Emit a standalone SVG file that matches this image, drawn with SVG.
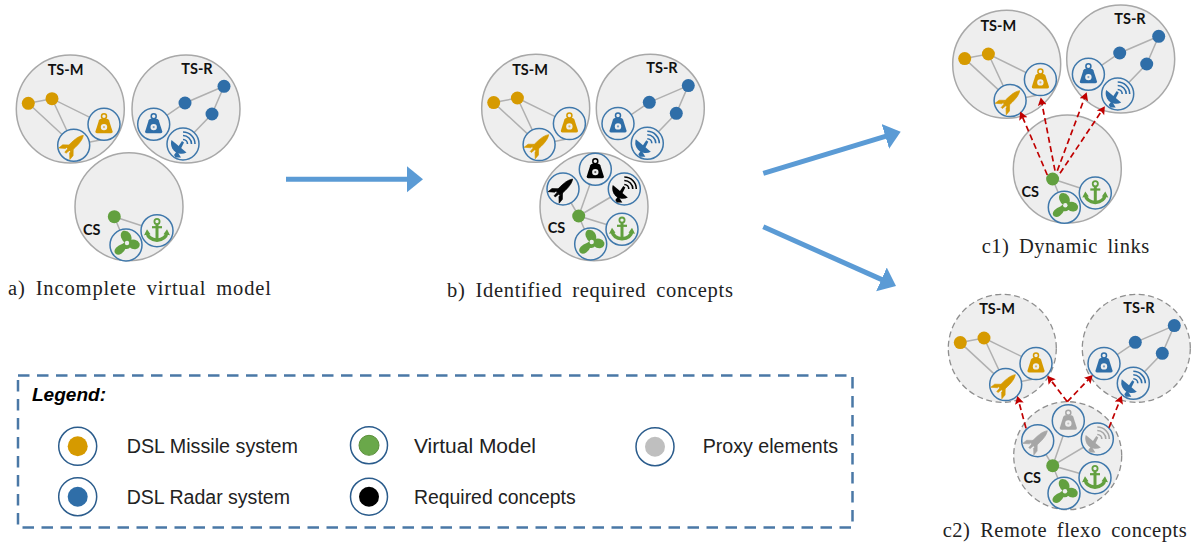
<svg xmlns="http://www.w3.org/2000/svg" width="1193" height="543" viewBox="0 0 1193 543">
<style>
.bg{fill:#eeeeee;stroke:#a8a8a8;stroke-width:1.5}
.bgd{fill:#eeeeee;stroke:#8f8f8f;stroke-width:1.3;stroke-dasharray:6 3.5}
.ln{stroke:#b0b0b0;stroke-width:1.5;fill:none}
.ring{fill:#eeeeee;stroke:#3f78ab;stroke-width:1.5}
.k .ring{stroke:#000;fill:#eeeeee}
.p .ring{stroke:#bdbdbd}
.o{color:#d69a00}.b{color:#2f6ea8}.g{color:#62a03f}.k{color:#000}.p{color:#a6a6a6}
.dot{fill:currentColor}
.lbl{font:700 14.5px Lato,"Liberation Sans",sans-serif;fill:#111;text-anchor:middle}
.cap{font:20.5px "Liberation Serif",serif;fill:#222}
.leg{font:19.5px "Liberation Sans",sans-serif;fill:#222}
.lo{fill:#fff;stroke:#2b5c8c;stroke-width:1.5}
.big{stroke:#5b9bd5;stroke-width:5;fill:none;marker-end:url(#mb)}
.red{stroke:#c00000;stroke-width:1.7;stroke-dasharray:6 3.5;fill:none;marker-end:url(#mr)}
</style>
<defs>
<marker id="mb" markerUnits="userSpaceOnUse" markerWidth="18" markerHeight="28" refX="6" refY="14" orient="auto"><path d="M0,1 L16,14 L0,27 Z" fill="#5b9bd5"/></marker>
<marker id="mr" markerUnits="userSpaceOnUse" markerWidth="10" markerHeight="10" refX="3" refY="5" orient="auto"><path d="M0,0.5 L8,5 L0,9.5 L1.5,5 Z" fill="#c00000"/></marker>
<g id="weight"><circle class="ring" r="16"/><circle cx="0" cy="-8" r="2.5" fill="none" stroke="currentColor" stroke-width="1.5"/><path d="M-3,-5.5 H3 Q4.5,-5.5 5,-4 L8.5,7 Q9,9 7,9 H-7 Q-9,9 -8.5,7 L-5,-4 Q-4.5,-5.5 -3,-5.5 Z" fill="currentColor"/><circle cx="0" cy="2.8" r="3.2" fill="#eeeeee"/><circle cx="0" cy="2.8" r="1.1" fill="currentColor" opacity=".6"/></g>
<g id="rocket"><circle class="ring" r="16"/><g transform="translate(-1.5,0.8) rotate(46)" fill="currentColor" stroke="currentColor" stroke-width=".6"><path d="M0,-15.5 C3.2,-11 3.3,-5 3,5 H-3 C-3.3,-5 -3.2,-11 0,-15.5 Z"/><path d="M-3,1.5 L-7.5,6 L-8,11 L-3,6.5 Z M3,1.5 L7.5,6 L8,11 L3,6.5 Z"/><path d="M-1.2,5 H1.2 L0.8,9.5 H-0.8 Z"/></g></g>
<g id="radar"><circle class="ring" r="16"/><g fill="currentColor"><path d="M-11.5,-4 L3.5,8.5 A10.5,10.5 0 0 1 -4,9.5 A10.5,10.5 0 0 1 -11.5,-4 Z"/><path d="M-6,7 L-2,13.5 L-7.5,13.5 L-9,11 Z"/><path d="M-5,3 L-1,-3 L1,-1.5 L-2,4.5 Z"/></g><g fill="none" stroke="currentColor" stroke-width="1.6"><path d="M0,-4.5 A4.5,4.5 0 0 1 4.5,0"/><path d="M0,-8.5 A8.5,8.5 0 0 1 8.5,0"/><path d="M0,-12 A12,12 0 0 1 12,0"/></g></g>
<g id="anchor"><circle class="ring" r="16"/><g fill="none" stroke="currentColor"><circle cx="0" cy="-9.2" r="2.6" stroke-width="1.8"/><path d="M0,-6.5 V9" stroke-width="3"/><path d="M-5,-3.5 H5" stroke-width="2.2"/><path d="M-10,2 C-9,7 -5,9 0,9.5 C5,9 9,7 10,2" stroke-width="3.4"/></g><path d="M-13,4.5 L-10,-1.5 L-6.5,3.5 Z M13,4.5 L10,-1.5 L6.5,3.5 Z" fill="currentColor"/></g>
<g id="prop"><circle class="ring" r="16"/><path fill="currentColor" stroke="currentColor" stroke-width="2.4" stroke-linejoin="round" d="M1,-2 C-4,-5 -5.5,-11 -2.5,-13 C2,-14 6,-9 3.5,-3.5 C7,-5 11,-4.5 12.5,-1 C13,3 8,4.5 4,1 C2,3 0,3 -1,2 C-3,7 -7,9.5 -9.5,8 C-12,5.5 -8,1.5 -3,0 C-2,-1 -1,-2 1,-2 Z"/><circle cx="1" cy="-2" r="2.2" fill="#eeeeee"/></g>
<g id="tsm-links"><path class="ln" d="M-42,-5.7 L-18.3,-10.3 L33.7,15.3 M-18.3,-10.3 L3.4,36.3 L-42,-5.7 M3.4,36.3 L40,29"/></g>
<g id="tsr-links"><path class="ln" d="M-32.3,15.3 L-1,-6 L38,-22.7 L26,5 L-3,35"/></g>
<g id="cs-links"><path class="ln" d="M28,24 L-14.7,10 M-14.7,10 L-3,38.3"/></g>
<g id="tsm-parts"><g class="o"><circle class="dot" cx="-42" cy="-5.7" r="6.5"/><circle class="dot" cx="-18.3" cy="-10.3" r="6.5"/><use href="#weight" transform="translate(33.7,15.3)"/><use href="#rocket" transform="translate(3.4,36.3)"/></g></g>
<g id="tsr-parts"><g class="b"><circle class="dot" cx="-1" cy="-6" r="6.5"/><circle class="dot" cx="38" cy="-22.7" r="6.5"/><circle class="dot" cx="26" cy="5" r="6.5"/><use href="#weight" transform="translate(-32.3,15.3)"/><use href="#radar" transform="translate(-3,35)"/></g></g>
<g id="cs-parts"><g class="g"><circle class="dot" cx="-14.7" cy="10" r="6.5"/><use href="#anchor" transform="translate(28,24)"/><use href="#prop" transform="translate(-3,38.3)"/></g></g>
</defs>

<g id="a-tsm-bg"><circle class="bg" cx="70.3" cy="109" r="54"/></g>
<g id="a-tsr-bg"><circle class="bg" cx="186" cy="109" r="54"/></g>
<g id="a-cs-bg"><circle class="bg" cx="129" cy="206.7" r="54"/></g>
<g id="b-tsm-bg"><circle class="bg" cx="535.7" cy="108.3" r="54"/></g>
<g id="b-tsr-bg"><circle class="bg" cx="650.3" cy="108.3" r="54"/></g>
<g id="b-cs-bg"><circle class="bg" cx="594" cy="206.7" r="54"/></g>
<g id="c1-tsm-bg"><circle class="bg" cx="1006.7" cy="64.3" r="54"/></g>
<g id="c1-tsr-bg"><circle class="bg" cx="1120.7" cy="59" r="54"/></g>
<g id="c1-cs-bg"><circle class="bg" cx="1067.3" cy="169" r="54"/></g>
<g id="c2-tsm-bg"><circle class="bgd" cx="1002.3" cy="348.3" r="54"/></g>
<g id="c2-tsr-bg"><circle class="bgd" cx="1136.3" cy="348.3" r="54"/></g>
<g id="c2-cs-bg"><circle class="bgd" cx="1067.7" cy="455.7" r="54"/></g>

<g id="connectors">
<use href="#tsm-links" transform="translate(70.3,109)"/>
<use href="#tsr-links" transform="translate(186,109)"/>
<use href="#cs-links" transform="translate(129,206.7)"/>
<use href="#tsm-links" transform="translate(535.7,108.3)"/>
<use href="#tsr-links" transform="translate(650.3,108.3)"/>
<path class="ln" d="M622,229.3 L578.7,216 L590.7,244 M595.3,169.3 L578.7,216 L563,189 M578.7,216 L624.3,189"/>
<use href="#tsm-links" transform="translate(1006.7,64.3)"/>
<use href="#tsr-links" transform="translate(1120.7,59)"/>
<use href="#cs-links" transform="translate(1067.3,169)"/>
<use href="#tsm-links" transform="translate(1002.3,348.3)"/>
<use href="#tsr-links" transform="translate(1136.3,348.3)"/>
<path class="ln" d="M1095,477.7 L1052.7,465.7 L1064,493.3 M1068.3,420.7 L1052.7,465.7 L1037.7,440.7 M1052.7,465.7 L1097.3,439"/>
<line class="big" x1="286" y1="179.3" x2="413" y2="179.3"/>
<line class="big" x1="763.3" y1="173.3" x2="891.1" y2="134.6"/>
<line class="big" x1="763.3" y1="226.7" x2="886.9" y2="281.9"/>
</g>

<g id="a-tsm"><use href="#tsm-parts" transform="translate(70.3,109)"/><text class="lbl" x="65.5" y="75">TS-M</text></g>
<g id="a-tsr"><use href="#tsr-parts" transform="translate(186,109)"/><text class="lbl" x="197" y="73.5">TS-R</text></g>
<g id="a-cs"><use href="#cs-parts" transform="translate(129,206.7)"/><text class="lbl" x="91.7" y="235">CS</text></g>

<g id="b-tsm"><use href="#tsm-parts" transform="translate(535.7,108.3)"/><text class="lbl" x="530" y="74.5">TS-M</text></g>
<g id="b-tsr"><use href="#tsr-parts" transform="translate(650.3,108.3)"/><text class="lbl" x="662" y="73">TS-R</text></g>
<g id="b-cs"><g class="g"><circle class="dot" cx="578.7" cy="216" r="6.5"/><use href="#anchor" transform="translate(622,229.3)"/><use href="#prop" transform="translate(590.7,244)"/></g><g class="k"><use href="#weight" transform="translate(595.3,169.3)"/><use href="#rocket" transform="translate(563,189)"/><use href="#radar" transform="translate(624.3,189)"/></g><text class="lbl" x="556.5" y="233">CS</text></g>

<g id="c1-tsm"><use href="#tsm-parts" transform="translate(1006.7,64.3)"/><text class="lbl" x="998.3" y="31">TS-M</text></g>
<g id="c1-tsr"><use href="#tsr-parts" transform="translate(1120.7,59)"/><text class="lbl" x="1130" y="24.3">TS-R</text></g>
<g id="c1-cs"><use href="#cs-parts" transform="translate(1067.3,169)"/><text class="lbl" x="1030.3" y="196.7">CS</text></g>

<g id="c2-tsm"><use href="#tsm-parts" transform="translate(1002.3,348.3)"/><text class="lbl" x="997" y="314.3">TS-M</text></g>
<g id="c2-tsr"><use href="#tsr-parts" transform="translate(1136.3,348.3)"/><text class="lbl" x="1139" y="312.7">TS-R</text></g>
<g id="c2-cs"><g class="g"><circle class="dot" cx="1052.7" cy="465.7" r="6.5"/><use href="#anchor" transform="translate(1095,477.7)"/><use href="#prop" transform="translate(1064,493.3)"/></g><g class="p"><use href="#weight" transform="translate(1068.3,420.7)"/><use href="#rocket" transform="translate(1037.7,440.7)"/><use href="#radar" transform="translate(1097.3,439)"/></g><text class="lbl" x="1032.3" y="483">CS</text></g>

<g id="red-links">
<line class="red" x1="1047.3" y1="175" x2="1022.2" y2="116.2"/>
<line class="red" x1="1055" y1="170.7" x2="1041.7" y2="102.3"/>
<line class="red" x1="1057.3" y1="170.7" x2="1084.9" y2="97"/>
<line class="red" x1="1060" y1="173.3" x2="1102.1" y2="110.3"/>
<line class="red" x1="1026" y1="428.3" x2="1018.6" y2="400.8"/>
<line class="red" x1="1067.3" y1="401.7" x2="1050.4" y2="379.7"/>
<line class="red" x1="1067.3" y1="401.7" x2="1089.3" y2="378.6"/>
<line class="red" x1="1109" y1="427.7" x2="1119.9" y2="400.4"/>
</g>

<g id="captions">
<text class="cap" x="8" y="295" textLength="263" lengthAdjust="spacing" word-spacing="4">a) Incomplete virtual model</text>
<text class="cap" x="447" y="297" textLength="286" lengthAdjust="spacing" word-spacing="4">b) Identified required concepts</text>
<text class="cap" x="981.7" y="253" textLength="167.6" lengthAdjust="spacing" word-spacing="4">c1) Dynamic links</text>
<text class="cap" x="942.7" y="536.7" textLength="244" lengthAdjust="spacing" word-spacing="4">c2) Remote flexo concepts</text>
</g>

<g id="legend">
<rect x="18" y="375.5" width="834.5" height="152" fill="none" stroke="#4a78a6" stroke-width="2.5" stroke-dasharray="11.5 7.5"/>
<text x="32" y="401" font-family="'Liberation Sans',sans-serif" font-size="19" font-weight="700" font-style="italic" fill="#000" textLength="74" lengthAdjust="spacingAndGlyphs">Legend:</text>
<g id="leg-missile"><circle class="lo" cx="77.7" cy="446.3" r="19"/><circle cx="77.7" cy="446.3" r="10" fill="#d69a00"/><text class="leg" x="126.7" y="453.3" textLength="171.3" lengthAdjust="spacingAndGlyphs">DSL Missile system</text></g>
<g id="leg-radar"><circle class="lo" cx="77.7" cy="496.7" r="19"/><circle cx="77.7" cy="496.7" r="10" fill="#2f6ea8"/><text class="leg" x="126.7" y="503.7" textLength="163.3" lengthAdjust="spacingAndGlyphs">DSL Radar system</text></g>
<g id="leg-vm"><circle class="lo" cx="369" cy="445.3" r="18.5"/><circle cx="369" cy="445.3" r="10" fill="#6aa84a" stroke="#5b8f3a"/><text class="leg" x="414" y="453.3" textLength="122" lengthAdjust="spacingAndGlyphs">Virtual Model</text></g>
<g id="leg-req"><circle class="lo" cx="369" cy="496.7" r="18.5"/><circle cx="369" cy="496.7" r="10" fill="#000"/><text class="leg" x="414" y="503.7" textLength="161.7" lengthAdjust="spacingAndGlyphs">Required concepts</text></g>
<g id="leg-proxy"><circle class="lo" cx="655" cy="446.7" r="19"/><circle cx="655" cy="446.7" r="10" fill="#bfbfbf"/><text class="leg" x="702.7" y="453.3" textLength="135.3" lengthAdjust="spacingAndGlyphs">Proxy elements</text></g>
</g>
</svg>
